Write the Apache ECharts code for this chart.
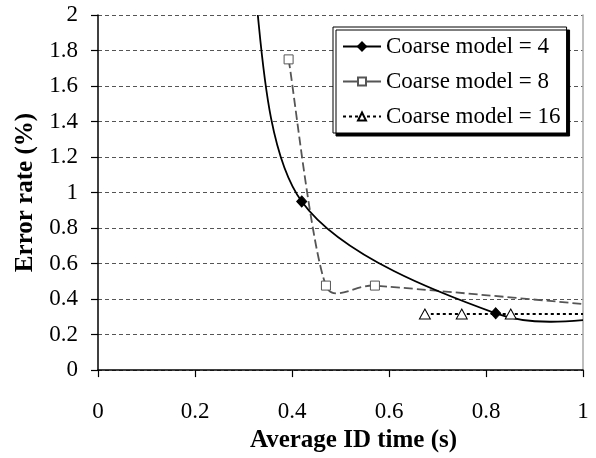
<!DOCTYPE html>
<html><head><meta charset="utf-8">
<script src="https://cdn.jsdelivr.net/npm/echarts@6/dist/echarts.min.js"></script>
<style>html,body{margin:0;padding:0;background:#fff}#c{width:596px;height:458px}</style>
</head><body><div id="c"></div>
<script>
// ---- data (points beyond the axis range are clipped, as in the original)
const names = ['Coarse model = 4', 'Coarse model = 8', 'Coarse model = 16'];
const x4 = [0.32, 0.42, 0.82, 1.08];
const y4 = [2.2, 0.95, 0.32, 0.30];
const x8 = [0.393, 0.47, 0.571, 1.15];
const y8 = [1.75, 0.476, 0.476, 0.335];
const x16 = [0.674, 0.75, 0.851, 1.1];
const y16 = [0.316, 0.316, 0.316, 0.316];
const xTicks = [0, 0.2, 0.4, 0.6, 0.8, 1];
const yTicks = [0, 0.2, 0.4, 0.6, 0.8, 1, 1.2, 1.4, 1.6, 1.8, 2];

const FONT = "'Liberation Serif','Times New Roman',serif";
const pairs = (xs, ys) => xs.map((x, i) => [x, ys[i]]);

function cap(v, m) {
  const l = Math.hypot(v[0], v[1]);
  if (l > m && l > 0) { v[0] *= m / l; v[1] *= m / l; }
  return v;
}
// Excel-like smoothed path in pixel space
function smoothPath(p) {
  let d = 'M' + p[0][0] + ' ' + p[0][1];
  for (let i = 0; i < p.length - 1; i++) {
    const p0 = p[i - 1] || p[i], p1 = p[i], p2 = p[i + 1], p3 = p[i + 2] || p[i + 1];
    const seg = Math.hypot(p2[0] - p1[0], p2[1] - p1[1]);
    const a = cap([(p2[0] - p0[0]) / 6, (p2[1] - p0[1]) / 6], seg * 0.4);
    const b = cap([(p3[0] - p1[0]) / 6, (p3[1] - p1[1]) / 6], seg * 0.4);
    d += ' C' + (p1[0] + a[0]) + ' ' + (p1[1] + a[1]) + ' ' + (p2[0] - b[0]) + ' ' + (p2[1] - b[1]) + ' ' + p2[0] + ' ' + p2[1];
  }
  return d;
}
function curveSeries(xs, ys, stroke, width, dash) {
  const data = pairs(xs, ys);
  return {
    type: 'custom', name: '_curve', clip: true, z: 2, silent: true,
    encode: { x: 0, y: 1 }, data: data,
    renderItem: function (params, api) {
      if (params.dataIndex !== 0) return null;
      const pts = data.map(d => api.coord(d));
      return {
        type: 'path', shape: { pathData: smoothPath(pts) },
        style: { fill: 'none', stroke: stroke, lineWidth: width, lineDash: dash }
      };
    }
  };
}
function markerSeries(name, xs, ys, symbol, size, itemStyle, lineStyle) {
  return {
    type: 'line', name: name, data: pairs(xs, ys), clip: true, z: 3,
    symbol: symbol, symbolSize: size, showSymbol: true,
    itemStyle: itemStyle, lineStyle: Object.assign({ opacity: 0 }, lineStyle)
  };
}

const chart = echarts.init(document.getElementById('c'), null, { renderer: 'canvas' });
chart.setOption({
  animation: false,
  backgroundColor: '#fff',
  grid: { left: 98, right: 13, top: 15, bottom: 82, containLabel: false },
  xAxis: {
    type: 'value', min: xTicks[0], max: xTicks[xTicks.length - 1], interval: 0.2,
    name: 'Average ID time (s)', nameLocation: 'middle', nameGap: 49,
    nameTextStyle: { fontFamily: FONT, fontSize: 25, fontWeight: 'bold', color: '#000', padding: [0, 0, 0, 26] },
    axisLine: { show: true, lineStyle: { color: '#000', width: 1.5 } },
    axisTick: { show: true, inside: false, length: 7, lineStyle: { color: '#000', width: 1.2 } },
    axisLabel: { fontFamily: FONT, fontSize: 23, color: '#000', margin: 30 },
    splitLine: { show: false }
  },
  yAxis: [{
    type: 'value', min: yTicks[0], max: yTicks[yTicks.length - 1], interval: 0.2,
    name: 'Error rate (%)', nameLocation: 'middle', nameGap: 57, nameRotate: 90,
    nameTextStyle: { fontFamily: FONT, fontSize: 25, fontWeight: 'bold', color: '#000' },
    axisLine: { show: true, lineStyle: { color: '#000', width: 1.5 } },
    axisTick: { show: true, inside: false, length: 7, lineStyle: { color: '#000', width: 1.2 } },
    axisLabel: { fontFamily: FONT, fontSize: 23, color: '#000', margin: 20 },
    splitLine: { show: true, lineStyle: { color: '#555', width: 1, type: [4, 3] } }
  }, {
    type: 'value', position: 'right', min: 0, max: 2,
    axisLine: { show: true, onZero: false, lineStyle: { color: '#a8a8a8', width: 1.5 } },
    axisTick: { show: false }, axisLabel: { show: false }, splitLine: { show: false }
  }],
  legend: {
    left: 333, top: 27, orient: 'vertical',
    data: [
      { name: names[0], lineStyle: { opacity: 1, color: '#000', width: 2, type: 'solid' } },
      { name: names[1], lineStyle: { opacity: 1, color: '#555', width: 2, type: 'solid' } },
      { name: names[2], lineStyle: { opacity: 1, color: '#000', width: 2, type: [3, 3] } }
    ],
    itemWidth: 38, itemHeight: 10, itemGap: 12,
    padding: [8, 6, 5, 9],
    backgroundColor: '#fff', borderColor: '#000', borderWidth: 1,
    shadowColor: '#000', shadowOffsetX: 3, shadowOffsetY: 3, shadowBlur: 0,
    textStyle: { fontFamily: FONT, fontSize: 23, color: '#000', lineHeight: 23 },
    selectedMode: false
  },
  series: [
    curveSeries(x8, y8, '#555', 1.8, [9, 4]),
    curveSeries(x4, y4, '#000', 1.8, null),
    curveSeries(x16, y16, '#000', 2.2, [3, 3]),
    markerSeries(names[0], x4, y4, 'diamond', [10, 11], { color: '#000', borderColor: '#000', borderWidth: 1 }, { color: '#000', width: 2 }),
    markerSeries(names[1], x8, y8, 'rect', 9, { color: '#fff', borderColor: '#555', borderWidth: 1 }, { color: '#555', width: 2, type: [9, 4] }),
    markerSeries(names[2], x16, y16, 'triangle', [11, 10], { color: '#fff', borderColor: '#000', borderWidth: 1 }, { color: '#000', width: 2, type: [3, 3] })
  ]
});
</script></body></html>
